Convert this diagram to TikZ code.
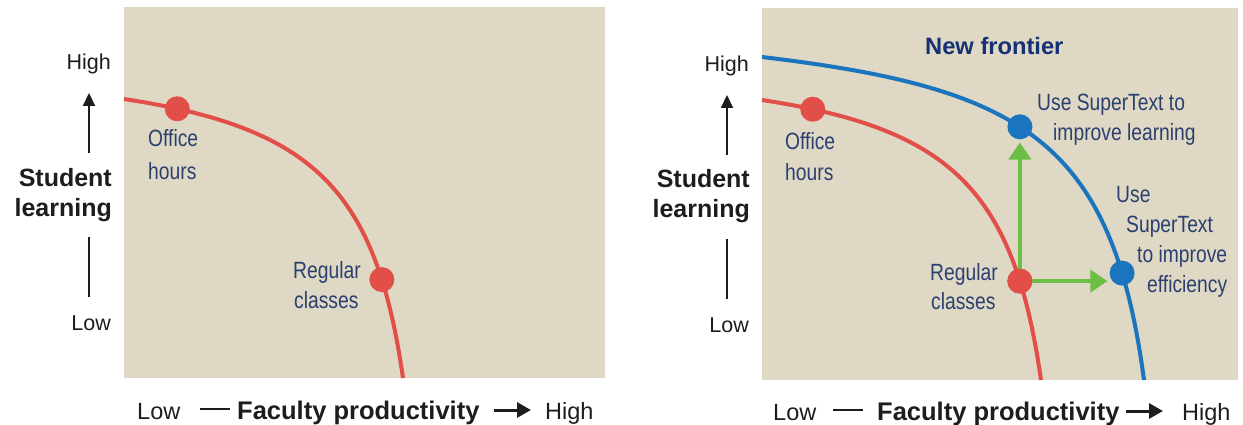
\documentclass[tikz,border=0pt]{standalone}
\usepackage{fontspec}
\setmainfont{Liberation Sans}
\newfontfamily\condfont[FakeStretch=0.82]{Liberation Sans}
\usetikzlibrary{arrows.meta}
\definecolor{bgbeige}{RGB}{222,216,196}
\definecolor{frontred}{RGB}{226,78,72}
\definecolor{frontblue}{RGB}{26,116,190}
\definecolor{arrowgreen}{RGB}{108,190,69}
\definecolor{labelblue}{RGB}{44,64,112}
\definecolor{navy}{RGB}{22,48,118}
\definecolor{axisblack}{RGB}{30,28,28}
\begin{document}
\begin{tikzpicture}[x=1pt,y=-1pt,
  panel/.style={fill=bgbeige,draw=none},
  frontier/.style={line width=4pt},
  dotnode/.style={circle,inner sep=0pt,minimum size=25pt},
  lbl/.style={inner sep=0pt,text=labelblue,font=\condfont\fontsize{23.5}{26}\selectfont},
  axlbl/.style={inner sep=0pt,text=axisblack,font=\fontsize{21.5}{24}\selectfont},
  axbold/.style={inner sep=0pt,text=axisblack,font=\bfseries\fontsize{25}{28}\selectfont},
  botlbl/.style={inner sep=0pt,text=axisblack,font=\fontsize{23.5}{26}\selectfont},
  botbold/.style={inner sep=0pt,text=axisblack,font=\bfseries\fontsize{25.5}{28}\selectfont},
  axarrow/.style={draw=axisblack,line width=2pt,-{Triangle[width=12pt,length=13pt]}},
  botarrow/.style={draw=axisblack,line width=3pt,-{Triangle[width=15pt,length=14pt]}},
  axline/.style={draw=axisblack,line width=2pt},
  greenarrow/.style={draw=arrowgreen,line width=4pt,-{Triangle[width=22pt,length=17pt]}},
]
\useasboundingbox (0,0) rectangle (1243,425);
\fill[white] (0,0) rectangle (1243,425);

% ---------- left panel ----------
\fill[panel] (124,7) rectangle (605,378);
\draw[frontier,frontred] (124,99) .. controls (314,128) and (376,190) .. (403,378)
  coordinate[pos=0.1] (officeLc) coordinate[pos=0.8] (regularLc);
\node[dotnode,fill=frontred] (officeL) at (officeLc) {};
\node[dotnode,fill=frontred] (regularL) at (regularLc) {};
\node[lbl,anchor=base west] (officeLt1) at (148,147) {Office};
\node[lbl,anchor=base west] (officeLt2) at (148,179) {hours};
\node[lbl,anchor=base west] (regLt1) at (293,278) {Regular};
\node[lbl,anchor=base west] (regLt2) at (294,308) {classes};

% left axis
\node[axlbl,anchor=base east] (highLy) at (111,70) {High};
\node[axbold,anchor=base east] (studL) at (112,186) {Student};
\node[axbold,anchor=base east] (learnL) at (112,216) {learning};
\node[axlbl,anchor=base east] (lowLy) at (111,330) {Low};
\coordinate (upLa) at (89,153);
\coordinate (upLb) at (89,93);
\coordinate (dnLa) at (89,237);
\coordinate (dnLb) at (89,297);
\draw[axarrow] (upLa) -- (upLb);
\draw[axline] (dnLa) -- (dnLb);

% left bottom axis
\node[botlbl,anchor=base west] (lowLx) at (137,419) {Low};
\node[botbold,anchor=base west] (facL) at (237,419) {Faculty productivity};
\node[botlbl,anchor=base west] (highLx) at (545,419) {High};
\coordinate (dashLa) at (200,409);
\coordinate (dashLb) at (230,409);
\coordinate (arrLa) at (494,410);
\coordinate (arrLb) at (531,410);
\draw[axline] (dashLa) -- (dashLb);
\draw[botarrow] (arrLa) -- (arrLb);

% ---------- right panel ----------
\fill[panel] (762,8) rectangle (1238,380);
\draw[frontier,frontblue] (762,57) .. controls (1022,88) and (1112,140) .. (1144,380)
  coordinate[pos=0.45] (learnRc) coordinate[pos=0.83] (effRc);
\draw[frontier,frontred] (762,100) .. controls (952,129) and (1014,191) .. (1041,380)
  coordinate[pos=0.095] (officeRc) coordinate[pos=0.8] (regularRc);
\node[dotnode,fill=frontred] (officeR) at (officeRc) {};
\node[dotnode,fill=frontred] (regularR) at (regularRc) {};
\node[dotnode,fill=frontblue] (learnR) at (learnRc) {};
\node[dotnode,fill=frontblue] (effR) at (effRc) {};
\draw[greenarrow,shorten >=3pt] (regularR.center) -- (regularR.center |- learnR.south);
\draw[greenarrow,shorten >=2pt] (regularR.center) -- (regularR.center -| effR.west);
\node[dotnode,fill=frontred] (regularRtop) at (regularR) {};

\node[lbl,anchor=base west] (officeRt1) at (785,150) {Office};
\node[lbl,anchor=base west] (officeRt2) at (785,181) {hours};
\node[lbl,anchor=base west] (regRt1) at (930,280) {Regular};
\node[lbl,anchor=base west] (regRt2) at (931,309) {classes};
\node[lbl,anchor=base west] (learnRt1) at (1037,111) {Use SuperText to};
\node[lbl,anchor=base west] (learnRt2) at (1053,141) {improve learning};
\node[lbl,anchor=base west] (effRt1) at (1116,202) {Use};
\node[lbl,anchor=base west] (effRt2) at (1126,232) {SuperText};
\node[lbl,anchor=base west] (effRt3) at (1137,262) {to improve};
\node[lbl,anchor=base west] (effRt4) at (1147,292) {efficiency};
\node[inner sep=0pt,anchor=base west,text=navy,font=\bfseries\fontsize{23.7}{26}\selectfont] (newfr) at (925,55) {New frontier};

% right axis
\node[axlbl,anchor=base east] (highRy) at (749,72) {High};
\node[axbold,anchor=base east] (studR) at (750,188) {Student};
\node[axbold,anchor=base east] (learnR2) at (750,218) {learning};
\node[axlbl,anchor=base east] (lowRy) at (749,332) {Low};
\coordinate (upRa) at (727,155);
\coordinate (upRb) at (727,95);
\coordinate (dnRa) at (727,239);
\coordinate (dnRb) at (727,299);
\draw[axarrow] (upRa) -- (upRb);
\draw[axline] (dnRa) -- (dnRb);

% right bottom axis
\node[botlbl,anchor=base west] (lowRx) at (773,420) {Low};
\node[botbold,anchor=base west] (facR) at (877,420) {Faculty productivity};
\node[botlbl,anchor=base west] (highRx) at (1182,420) {High};
\coordinate (dashRa) at (833,410);
\coordinate (dashRb) at (863,410);
\coordinate (arrRa) at (1126,411);
\coordinate (arrRb) at (1163,411);
\draw[axline] (dashRa) -- (dashRb);
\draw[botarrow] (arrRa) -- (arrRb);
\end{tikzpicture}
\end{document}
